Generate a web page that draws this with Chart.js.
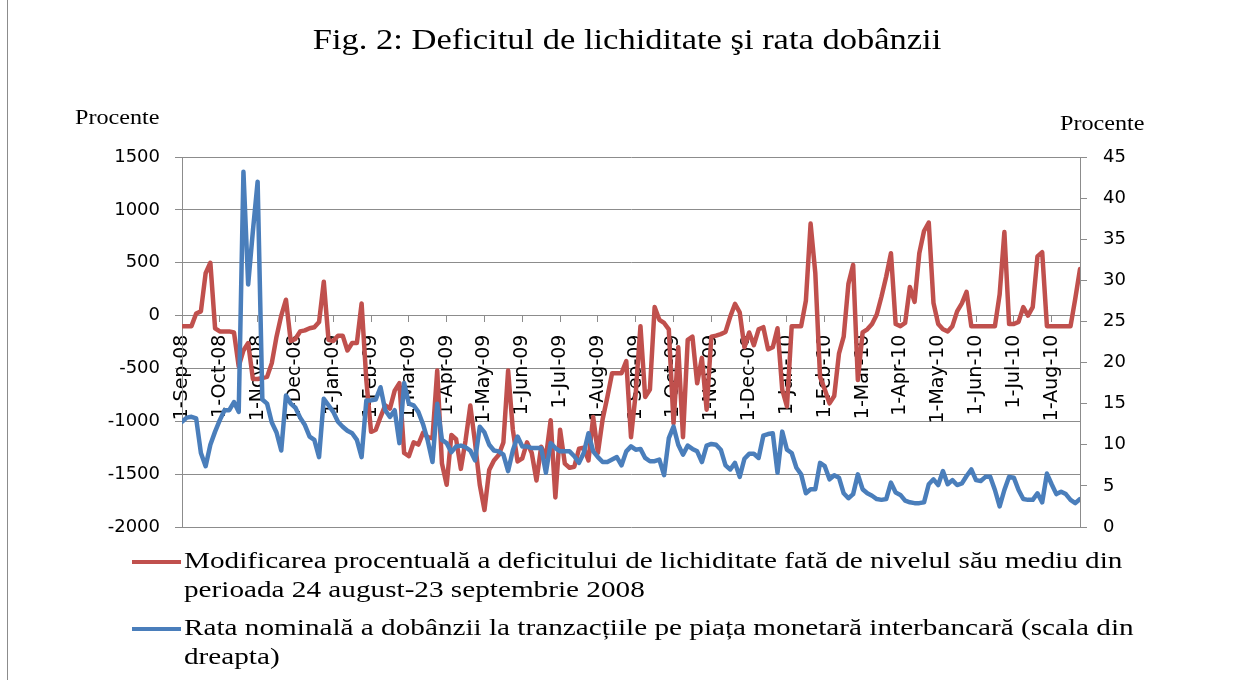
<!DOCTYPE html>
<html>
<head>
<meta charset="utf-8">
<script src="https://cdn.jsdelivr.net/npm/chart.js@4"></script>
<style>
  html, body { margin: 0; padding: 0; background: #fff; }
  canvas { display: block; }
</style>
</head>
<body>
<canvas id="myChart" width="1238" height="680"></canvas>
<script>
const monthLabels = [
  '1-Sep-08', '1-Oct-08', '1-Nov-08', '1-Dec-08', '1-Jan-09', '1-Feb-09',
  '1-Mar-09', '1-Apr-09', '1-May-09', '1-Jun-09', '1-Jul-09', '1-Aug-09',
  '1-Sep-09', '1-Oct-09', '1-Nov-09', '1-Dec-09', '1-Jan-10', '1-Feb-10',
  '1-Mar-10', '1-Apr-10', '1-May-10', '1-Jun-10', '1-Jul-10', '1-Aug-10',
]
const pointsPerMonth = 8

// Modificarea procentuala a deficitului de lichiditate (scala din stanga)
const deficit = [
  -100, -100, -100, 20, 40, 400, 500, -120,
  -150, -150, -150, -160, -480, -330, -260, -600,
  -600, -590, -580, -450, -200, 0, 150, -240,
  -220, -150, -140, -120, -110, -60, 320, -230,
  -240, -190, -190, -330, -260, -260, 115, -610,
  -1100, -1080, -960, -850, -880, -710, -640, -1300,
  -1330, -1200, -1220, -1110, -1150, -1160, -520, -1400,
  -1600, -1130, -1170, -1450, -1180, -850, -1200, -1600,
  -1840, -1460, -1370, -1320, -1200, -520, -1080, -1380,
  -1350, -1200, -1300, -1560, -1240, -1340, -990, -1720,
  -1080, -1400, -1440, -1430, -1260, -1250, -1370, -960,
  -1300, -980, -770, -545, -545, -545, -430, -1150,
  -735, -100, -770, -700, 80, -40, -70, -130,
  -1020, -300, -1150, -230, -200, -640, -400, -890,
  -200, -190, -175, -155, -10, 110, 30, -300,
  -160, -280, -130, -110, -320, -300, -120, -700,
  -860, -100, -100, -100, 140, 870, 400, -580,
  -700, -830, -760, -360, -200, 300, 480, -610,
  -160, -130, -80, 10, 180, 370, 590, -80,
  -100, -70, 270, 130, 590, 800, 880, 120,
  -80, -130, -150, -100, 40, 115, 225, -100,
  -100, -100, -100, -100, -100, 200, 790, -80,
  -80, -60, 80, 0, 80, 560, 600, -100,
  -100, -100, -100, -100, -100, 160, 440,
]

// Rata nominala a dobanzii interbancare (scala din dreapta)
const rate = [
  12.8, 13.3, 13.4, 13.2, 9.0, 7.4, 10.0, 11.6,
  13.0, 14.2, 14.2, 15.2, 14.0, 43.2, 29.5, 36.0,
  42.0, 15.5, 15.0, 12.7, 11.5, 9.3, 16.0, 15.0,
  14.5, 13.3, 12.4, 11.0, 10.6, 8.5, 15.6, 14.8,
  14.0, 12.8, 12.2, 11.7, 11.4, 10.6, 8.5, 15.4,
  15.4, 15.5, 17.0, 14.2, 13.4, 14.2, 10.2, 17.5,
  15.0, 14.8, 14.0, 12.5, 10.5, 7.9, 15.0, 10.6,
  10.2, 9.1, 9.8, 9.9, 9.7, 9.3, 8.1, 12.2,
  11.5, 10.0, 9.3, 9.2, 8.8, 6.8, 9.3, 11.0,
  9.8, 9.8, 9.6, 9.6, 9.6, 6.6, 10.2, 9.6,
  9.2, 9.2, 9.2, 8.6, 7.8, 9.0, 11.4, 9.2,
  8.5, 7.9, 7.9, 8.2, 8.5, 7.5, 9.2, 9.8,
  9.4, 9.5, 8.4, 8.0, 8.0, 8.2, 6.3, 10.8,
  12.2, 10.0, 8.8, 9.9, 9.5, 9.2, 7.9, 9.9,
  10.1, 10.0, 9.4, 7.5, 7.0, 7.8, 6.1, 8.3,
  8.9, 8.9, 8.4, 11.1, 11.3, 11.4, 6.6, 11.6,
  9.4, 9.0, 7.2, 6.4, 4.1, 4.6, 4.6, 7.8,
  7.4, 5.8, 6.3, 6.0, 4.1, 3.5, 4.0, 6.4,
  4.6, 4.1, 3.8, 3.4, 3.3, 3.4, 5.4, 4.2,
  3.9, 3.2, 3.0, 2.9, 2.9, 3.0, 5.2, 5.8,
  5.1, 6.8, 5.2, 5.7, 5.1, 5.3, 6.2, 7.0,
  5.7, 5.6, 6.1, 6.1, 4.5, 2.5, 4.5, 6.1,
  6.0, 4.5, 3.4, 3.3, 3.3, 4.1, 3.0, 6.5,
  5.2, 4.0, 4.3, 4.0, 3.3, 2.9, 3.4,
]

const leftTicks = { min: -2000, max: 1500, step: 500 }
const rightTicks = { min: 0, max: 45, step: 5 }

const titleText = 'Fig. 2: Deficitul de lichiditate şi rata dobânzii'
const axisUnit = 'Procente'
const deficitLegend = [
  'Modificarea procentuală a deficitului de lichiditate fată de nivelul său mediu din',
  'perioada 24 august-23 septembrie 2008',
]
const rateLegend = [
  'Rata nominală a dobânzii la tranzacțiile pe piața monetară interbancară (scala din',
  'dreapta)',
]

const RED = '#C0504D'
const BLUE = '#4A7EBB'
const GRID = '#8C8C8C'

// serif text, widened a little like the exported figure
function serifText(ctx, str, x, y, size, align, stretch) {
  ctx.save()
  ctx.font = size + 'px "Liberation Serif", "Times New Roman", serif'
  ctx.fillStyle = '#000'
  ctx.textAlign = align
  ctx.textBaseline = 'middle'
  ctx.translate(x, y)
  ctx.scale(stretch, 1)
  ctx.fillText(str, 0, 0)
  ctx.restore()
}

const figurePlugin = {
  id: 'figure',
  beforeDraw(chart) {
    const ctx = chart.ctx
    ctx.save()
    ctx.fillStyle = '#fff'
    ctx.fillRect(0, 0, chart.width, chart.height)
    ctx.restore()
  },
  afterDraw(chart) {
    const ctx = chart.ctx
    ctx.save()
    ctx.strokeStyle = GRID
    ctx.lineWidth = 1
    ctx.beginPath()
    ctx.moveTo(7.5, 0)
    ctx.lineTo(7.5, chart.height)
    ctx.stroke()
    ctx.restore()

    serifText(ctx, titleText, 627, 41, 30, 'center', 1.15)
    serifText(ctx, axisUnit, 75, 118, 21, 'left', 1.15)
    serifText(ctx, axisUnit, 1060, 124, 21, 'left', 1.15)

    // legend
    const items = [
      { color: RED, lines: deficitLegend, y: 562 },
      { color: BLUE, lines: rateLegend, y: 629 },
    ]
    items.forEach(item => {
      ctx.save()
      ctx.strokeStyle = item.color
      ctx.lineWidth = 4
      ctx.beginPath()
      ctx.moveTo(132, item.y)
      ctx.lineTo(181, item.y)
      ctx.stroke()
      ctx.restore()
      item.lines.forEach((line, k) => {
        serifText(ctx, line, 184, item.y + k * 29, 23, 'left', 1.27)
      })
    })
  },
}

const toPoints = arr => arr.map((v, i) => ({ x: i, y: v }))

const data = {
  datasets: [
    {
      label: deficitLegend.join(' '),
      data: toPoints(deficit),
      yAxisID: 'y',
      borderColor: RED,
      backgroundColor: RED,
      borderWidth: 4.5,
      pointRadius: 0,
      tension: 0,
      borderJoinStyle: 'round',
      borderCapStyle: 'round',
      order: 1,
    },
    {
      label: rateLegend.join(' '),
      data: toPoints(rate),
      yAxisID: 'y1',
      borderColor: BLUE,
      backgroundColor: BLUE,
      borderWidth: 4.5,
      pointRadius: 0,
      tension: 0,
      borderJoinStyle: 'round',
      borderCapStyle: 'round',
      order: 0,
    },
  ],
}

const tickFont = { family: 'DejaVu Sans', size: 18 }
const plainNumber = value => String(value)

const config = {
  type: 'line',
  data: data,
  plugins: [figurePlugin],
  options: {
    responsive: false,
    animation: false,
    layout: { padding: { top: 157, bottom: 153, left: 0, right: 0 } },
    plugins: {
      legend: { display: false },
      title: { display: false },
      tooltip: { enabled: false },
    },
    scales: {
      x: {
        type: 'linear',
        position: { y: 0 },
        min: 0,
        max: deficit.length - 1,
        afterBuildTicks: scale => {
          scale.ticks = monthLabels.map((_, m) => ({ value: m * pointsPerMonth }))
        },
        ticks: {
          autoSkip: false,
          minRotation: 90,
          maxRotation: 90,
          padding: 13,
          color: '#000',
          font: { family: 'DejaVu Sans', size: 19 },
          callback: (value, index) => monthLabels[index],
        },
        grid: { drawOnChartArea: false, tickLength: 6, color: GRID },
        border: { color: GRID, width: 1 },
      },
      y: {
        position: 'left',
        min: leftTicks.min,
        max: leftTicks.max,
        afterFit: scale => { scale.width = 182 },
        ticks: { stepSize: leftTicks.step, padding: 15, color: '#000', font: tickFont, callback: plainNumber },
        grid: { color: GRID, lineWidth: 1, tickLength: 7 },
        border: { color: GRID, width: 1 },
      },
      y1: {
        position: 'right',
        min: rightTicks.min,
        max: rightTicks.max,
        afterFit: scale => { scale.width = 158 },
        ticks: { stepSize: rightTicks.step, padding: 16, color: '#000', font: tickFont, callback: plainNumber },
        grid: { drawOnChartArea: false, color: GRID, tickLength: 7 },
        border: { color: GRID, width: 1 },
      },
    },
  },
}

var myChart = new Chart(document.getElementById('myChart'), config)
</script>
</body>
</html>
